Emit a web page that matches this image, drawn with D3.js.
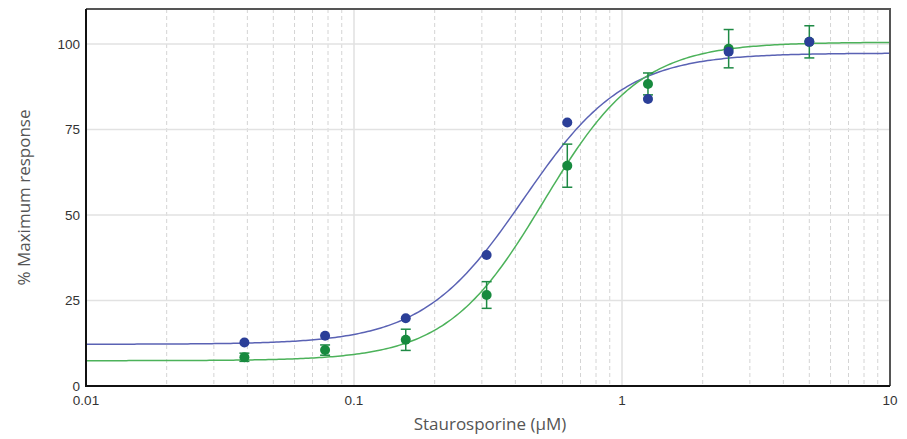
<!DOCTYPE html>
<html>
<head>
<meta charset="utf-8">
<script src="https://cdn.jsdelivr.net/npm/d3@7"></script>
<style>
body { margin: 0; background: #fff; }
svg { display: block; }
</style>
</head>
<body>
<svg id="chart" width="907" height="439"></svg>
<script>
// data
var conc = [0.039, 0.078, 0.156, 0.3125, 0.625, 1.25, 2.5, 5];
var blueVals = [12.7, 14.7, 19.8, 38.3, 77.0, 83.9, 97.7, 100.6];
var greenVals = [8.4, 10.5, 13.5, 26.6, 64.4, 88.3, 98.6, 100.6];
var greenErr = [1.2, 1.5, 3.1, 3.9, 6.3, 3.2, 5.6, 4.7];
// fitted 4PL curve parameters [bottom, top, ec50, hill]
var blueFit = [12.2, 97.3, 0.43, 2.3];
var greenFit = [7.4, 100.5, 0.51, 2.4];
var xTicks = [0.01, 0.1, 1, 10];
var yTicks = [0, 25, 50, 75, 100];

var svg = d3.select("#chart");
var pLeft = 86, pRight = 890, pTop = 9, pBottom = 386;

var x = d3.scaleLog().domain([0.01, 10]).range([pLeft, pRight]);
var y = d3.scaleLinear().domain([0, 110.2]).range([pBottom, pTop]);

// minor grid (2..9 in each decade)
var minor = [];
[0.01, 0.1, 1].forEach(function(d) {
	for (var i = 2; i < 10; i++) minor.push(d * i);
});
svg.append("g")
	.selectAll("line")
	.data(minor)
	.enter()
	.append("line")
	.attr("x1", function(d) { return x(d); })
	.attr("x2", function(d) { return x(d); })
	.attr("y1", pTop)
	.attr("y2", pBottom)
	.attr("stroke", "#d4d4d4")
	.attr("stroke-dasharray", "4,3");

// major grid
svg.append("g")
	.selectAll("line")
	.data([0.1, 1])
	.enter()
	.append("line")
	.attr("x1", function(d) { return x(d); })
	.attr("x2", function(d) { return x(d); })
	.attr("y1", pTop)
	.attr("y2", pBottom)
	.attr("stroke", "#e0e0e0")
	.attr("stroke-width", 1.5);

svg.append("g")
	.selectAll("line")
	.data([25, 50, 75, 100])
	.enter()
	.append("line")
	.attr("x1", pLeft)
	.attr("x2", pRight)
	.attr("y1", function(d) { return y(d); })
	.attr("y2", function(d) { return y(d); })
	.attr("stroke", "#e2e2e2")
	.attr("stroke-width", 1.5);

// fitted curves
function fourPL(p) {
	return function(c) {
		return p[0] + (p[1] - p[0]) / (1 + Math.pow(p[2] / c, p[3]));
	};
}
var xs = d3.range(0, 301).map(function(i) { return Math.pow(10, -2 + i * 0.01); });
var line = d3.line()
	.x(function(d) { return x(d[0]); })
	.y(function(d) { return y(d[1]); });

var fb = fourPL(blueFit), fg = fourPL(greenFit);
svg.append("path")
	.attr("d", line(xs.map(function(c) { return [c, fb(c)]; })))
	.attr("fill", "none")
	.attr("stroke", "#5a62b4")
	.attr("stroke-width", 1.5);
svg.append("path")
	.attr("d", line(xs.map(function(c) { return [c, fg(c)]; })))
	.attr("fill", "none")
	.attr("stroke", "#4cb25a")
	.attr("stroke-width", 1.5);

// green error bars
var eb = svg.append("g")
	.attr("stroke", "#1f8a45")
	.attr("stroke-width", 1.5)
	.selectAll("g")
	.data(conc)
	.enter()
	.append("g");
eb.append("line")
	.attr("x1", function(d) { return x(d); })
	.attr("x2", function(d) { return x(d); })
	.attr("y1", function(d, i) { return y(greenVals[i] + greenErr[i]); })
	.attr("y2", function(d, i) { return y(greenVals[i] - greenErr[i]); });
eb.append("line")
	.attr("x1", function(d) { return x(d) - 5; })
	.attr("x2", function(d) { return x(d) + 5; })
	.attr("y1", function(d, i) { return y(greenVals[i] + greenErr[i]); })
	.attr("y2", function(d, i) { return y(greenVals[i] + greenErr[i]); });
eb.append("line")
	.attr("x1", function(d) { return x(d) - 5; })
	.attr("x2", function(d) { return x(d) + 5; })
	.attr("y1", function(d, i) { return y(greenVals[i] - greenErr[i]); })
	.attr("y2", function(d, i) { return y(greenVals[i] - greenErr[i]); });

// points
svg.append("g")
	.selectAll("circle")
	.data(conc)
	.enter()
	.append("circle")
	.attr("cx", function(d) { return x(d); })
	.attr("cy", function(d, i) { return y(greenVals[i]); })
	.attr("r", 5)
	.attr("fill", "#178a3e");
svg.append("g")
	.selectAll("circle")
	.data(conc)
	.enter()
	.append("circle")
	.attr("cx", function(d) { return x(d); })
	.attr("cy", function(d, i) { return y(blueVals[i]); })
	.attr("r", 5)
	.attr("fill", "#2b3f98");

// frame
svg.append("path")
	.attr("d", "M" + pLeft + "," + pTop + "H" + pRight + "V" + pBottom)
	.attr("fill", "none")
	.attr("stroke", "#555")
	.attr("stroke-width", 2);
svg.append("path")
	.attr("d", "M" + pLeft + "," + pTop + "V" + pBottom + "H" + pRight)
	.attr("fill", "none")
	.attr("stroke", "#111")
	.attr("stroke-width", 2);

// tick labels
svg.append("g")
	.selectAll("text")
	.data(yTicks)
	.enter()
	.append("text")
	.attr("x", pLeft - 6)
	.attr("y", function(d) { return y(d); })
	.attr("dy", "0.35em")
	.attr("text-anchor", "end")
	.attr("font-family", "Liberation Sans, Arial, sans-serif")
	.attr("font-size", 13.5)
	.attr("fill", "#333")
	.text(function(d) { return d; });

svg.append("g")
	.selectAll("text")
	.data(xTicks)
	.enter()
	.append("text")
	.attr("x", function(d) { return x(d); })
	.attr("y", pBottom + 19)
	.attr("text-anchor", "middle")
	.attr("font-family", "Liberation Sans, Arial, sans-serif")
	.attr("font-size", 13.5)
	.attr("fill", "#333")
	.text(function(d) { return d; });

// axis titles
svg.append("text")
	.attr("transform", "translate(30," + ((pTop + pBottom) / 2) + ") rotate(-90)")
	.attr("text-anchor", "middle")
	.attr("font-family", "Open Sans, sans-serif")
	.attr("font-size", 17)
	.attr("fill", "#555")
	.text("% Maximum response");
svg.append("text")
	.attr("x", 490)
	.attr("y", 430)
	.attr("text-anchor", "middle")
	.attr("font-family", "Open Sans, sans-serif")
	.attr("font-size", 17)
	.attr("fill", "#555")
	.text("Staurosporine (µM)");
</script>
</body>
</html>
